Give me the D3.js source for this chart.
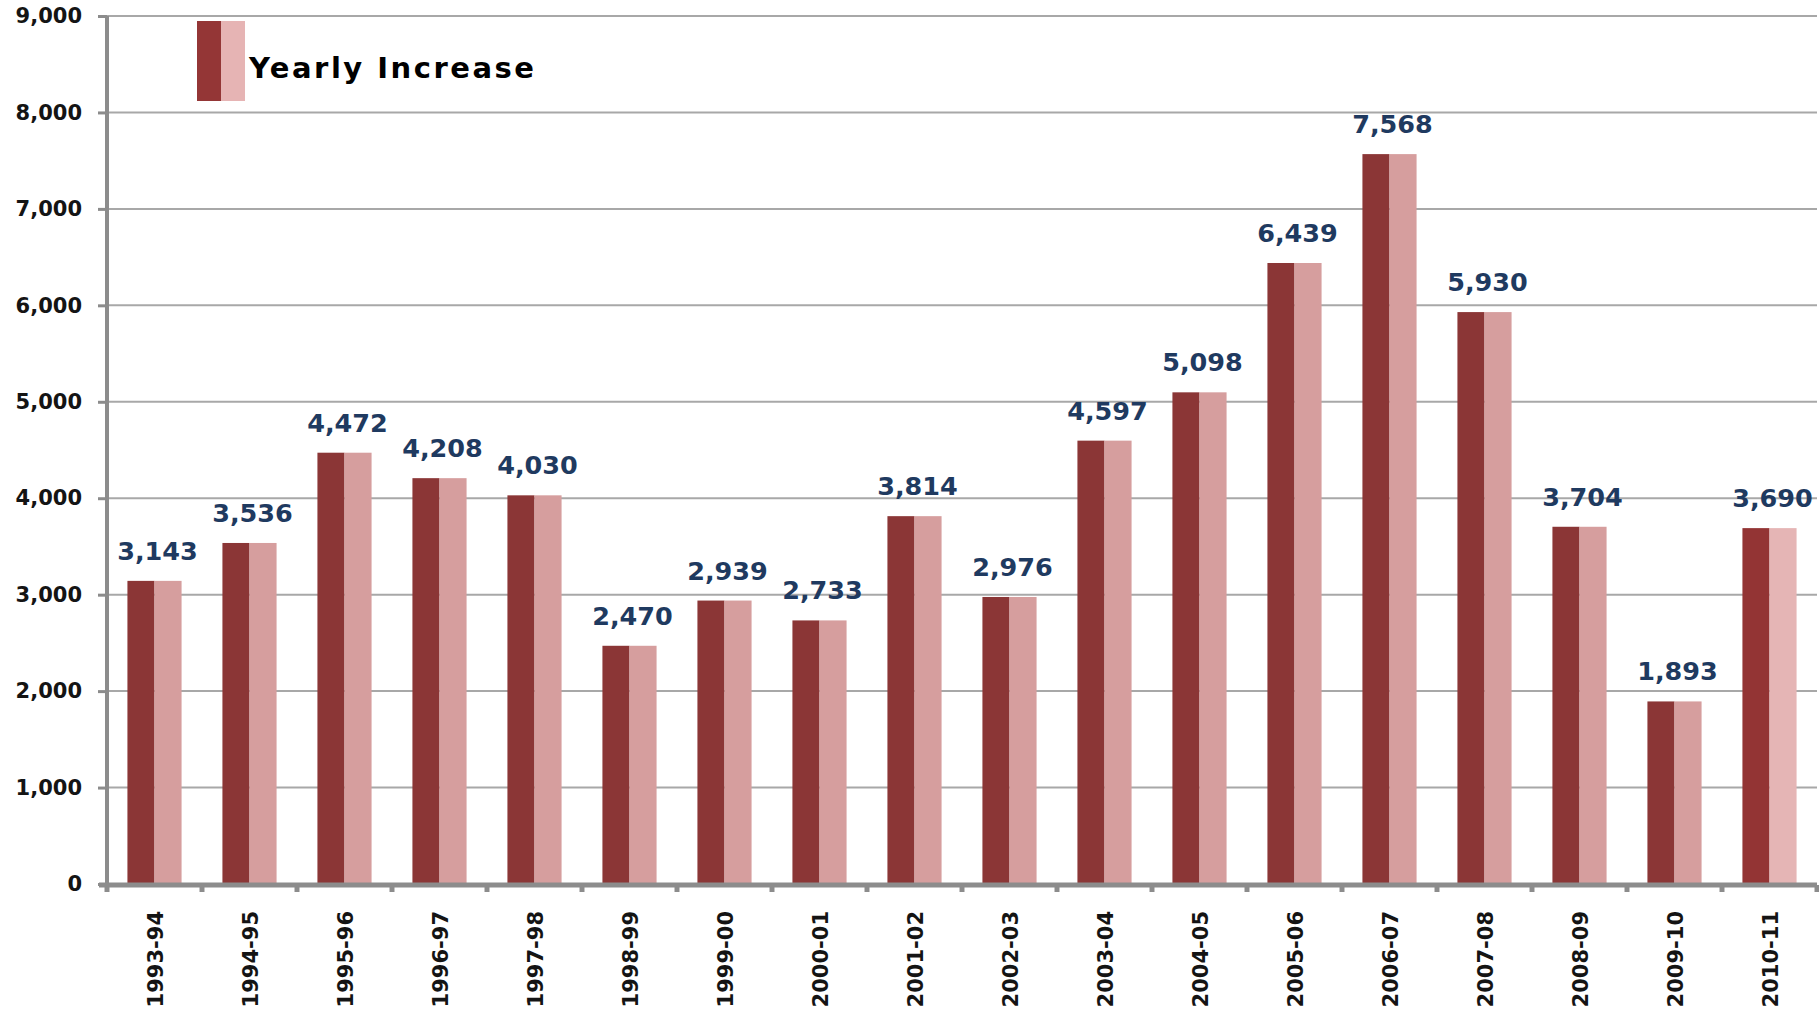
<!DOCTYPE html>
<html>
<head>
<meta charset="utf-8">
<script src="https://cdn.jsdelivr.net/npm/d3@7"></script>
<style>
  html, body { margin: 0; padding: 0; background: #fff; }
  svg { display: block; }
</style>
</head>
<body>
<svg id="chart" width="1819" height="1013"></svg>
<script>
const years = ['1993-94', '1994-95', '1995-96', '1996-97', '1997-98', '1998-99',
    '1999-00', '2000-01', '2001-02', '2002-03', '2003-04', '2004-05',
    '2005-06', '2006-07', '2007-08', '2008-09', '2009-10', '2010-11'];
const increases = [3143, 3536, 4472, 4208, 4030, 2470, 2939, 2733, 3814,
    2976, 4597, 5098, 6439, 7568, 5930, 3704, 1893, 3690];
const yTicks = [0, 1000, 2000, 3000, 4000, 5000, 6000, 7000, 8000, 9000];
const legendLabel = 'Yearly Increase';

const margin = { top: 16, right: 2, bottom: 129, left: 107 },
    width = 1819,
    height = 1013,
    fmt = d3.format(','),
    font = '"DejaVu Sans", Verdana, sans-serif',
    dark = '#8b3636',
    light = '#d69e9e',
    lastDark = '#933434',
    lastLight = '#e5b5b5',
    axisGray = '#8c8c8c',
    gridGray = '#a8a8a8';

const svg = d3.select('#chart');

const x = d3.scaleBand()
    .domain(years)
    .range([margin.left, width - margin.right])
    .paddingInner(0.43)
    .paddingOuter(0.215);

const y = d3.scaleLinear()
    .domain([0, 9000])
    .range([height - margin.bottom, margin.top]);

const step = x.step();

// gridlines
svg.append('g')
    .selectAll('line')
    .data(yTicks.filter(d => d > 0))
    .join('line')
    .attr('x1', margin.left)
    .attr('x2', width - margin.right)
    .attr('y1', d => y(d))
    .attr('y2', d => y(d))
    .attr('stroke', gridGray)
    .attr('stroke-width', 2);

// bars: dark left half, light right half
const bars = svg.append('g')
    .selectAll('g')
    .data(years.map((yr, i) => ({ yr, v: increases[i], last: i === years.length - 1 })))
    .join('g');

bars.append('rect')
    .attr('x', d => x(d.yr))
    .attr('y', d => y(d.v))
    .attr('width', x.bandwidth() / 2)
    .attr('height', d => y(0) - y(d.v))
    .attr('fill', d => d.last ? lastDark : dark);

bars.append('rect')
    .attr('x', d => x(d.yr) + x.bandwidth() / 2)
    .attr('y', d => y(d.v))
    .attr('width', x.bandwidth() / 2)
    .attr('height', d => y(0) - y(d.v))
    .attr('fill', d => d.last ? lastLight : light);

// value labels
bars.append('text')
    .attr('x', d => x(d.yr) + x.bandwidth() / 2 + 3)
    .attr('y', d => y(d.v) - 21)
    .attr('text-anchor', 'middle')
    .attr('font-family', font)
    .attr('font-weight', 'bold')
    .attr('font-size', 25.5)
    .attr('fill', '#1f3a60')
    .text(d => fmt(d.v));

// y axis
const yAxis = svg.append('g')
    .attr('transform', `translate(${margin.left},0)`)
    .call(d3.axisLeft(y).tickValues(yTicks).tickFormat(fmt).tickSize(9).tickPadding(16));

yAxis.select('.domain')
    .attr('stroke', axisGray)
    .attr('stroke-width', 4)
    .attr('d', `M0,${margin.top}V${y(0)}`);

yAxis.selectAll('.tick line')
    .attr('stroke', axisGray)
    .attr('stroke-width', 3);

yAxis.selectAll('.tick text')
    .attr('font-family', font)
    .attr('font-weight', 'bold')
    .attr('font-size', 21)
    .attr('fill', '#141414');

// x axis: thick baseline with stubs at category boundaries
const bounds = d3.range(years.length + 1).map(i => margin.left + i * step);

svg.append('line')
    .attr('x1', margin.left - 8)
    .attr('x2', width - margin.right)
    .attr('y1', y(0) + 1)
    .attr('y2', y(0) + 1)
    .attr('stroke', axisGray)
    .attr('stroke-width', 5);

svg.append('g')
    .selectAll('line')
    .data(bounds)
    .join('line')
    .attr('x1', d => d)
    .attr('x2', d => d)
    .attr('y1', y(0) + 1)
    .attr('y2', y(0) + 8)
    .attr('stroke', axisGray)
    .attr('stroke-width', 5);

svg.append('g')
    .selectAll('text')
    .data(years)
    .join('text')
    .attr('transform', d => `translate(${x(d) + x.bandwidth() / 2 + 8},${y(0) + 27}) rotate(-90)`)
    .attr('text-anchor', 'end')
    .attr('font-family', font)
    .attr('font-weight', 'bold')
    .attr('font-size', 21)
    .attr('fill', '#141414')
    .text(d => d);

// legend
const legend = svg.append('g').attr('transform', 'translate(197,21)');

legend.append('rect')
    .attr('width', 24).attr('height', 80).attr('fill', '#943636');
legend.append('rect')
    .attr('x', 24).attr('width', 24).attr('height', 80).attr('fill', '#e6b4b4');
legend.append('text')
    .attr('x', 52)
    .attr('y', 57)
    .attr('font-family', font)
    .attr('font-weight', 'bold')
    .attr('font-size', 29)
    .attr('letter-spacing', 2.5)
    .attr('fill', '#000')
    .text(legendLabel);
</script>
</body>
</html>
